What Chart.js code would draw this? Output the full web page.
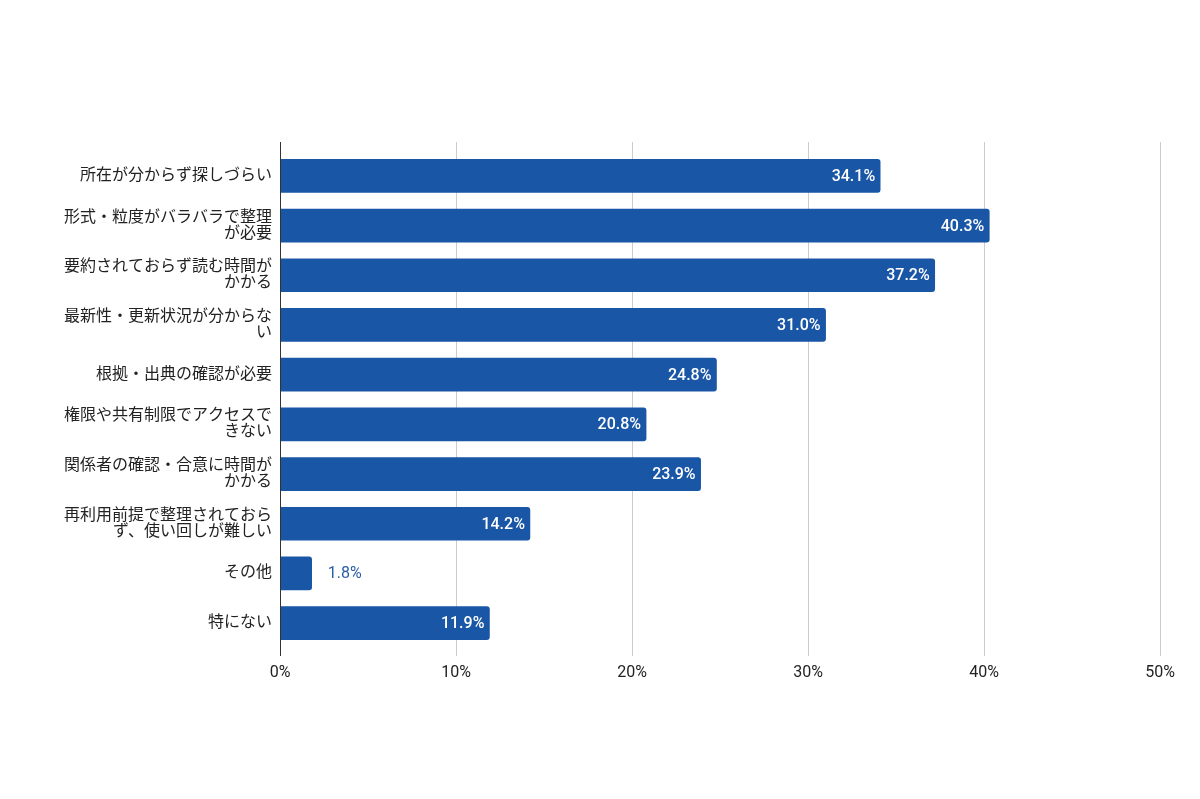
<!DOCTYPE html>
<html lang="ja">
<head>
<meta charset="utf-8">
<script src="https://cdn.jsdelivr.net/npm/chart.js@4"></script>
<style>
  html, body { margin: 0; padding: 0; background: #fff; }
  #wrap { width: 1200px; height: 799px; }
</style>
</head>
<body>
<div id="wrap"><canvas id="barChart" width="1200" height="799"></canvas></div>
<script>
// categories (multi-line labels as in the picture)
const categories = [
    ['所在が分からず探しづらい'],
    ['形式・粒度がバラバラで整理', 'が必要'],
    ['要約されておらず読む時間が', 'かかる'],
    ['最新性・更新状況が分からな', 'い'],
    ['根拠・出典の確認が必要'],
    ['権限や共有制限でアクセスで', 'きない'],
    ['関係者の確認・合意に時間が', 'かかる'],
    ['再利用前提で整理されておら', 'ず、使い回しが難しい'],
    ['その他'],
    ['特にない']
];
const shares = [34.1, 40.3, 37.2, 31.0, 24.8, 20.8, 23.9, 14.2, 1.8, 11.9];
const axisTicks = [0, 10, 20, 30, 40, 50];

const barBlue = '#1a56a6';
const fontFamily = "Roboto, 'Noto Sans CJK JP', sans-serif";

// grid lines and the left axis line run a little past the category band
const gridBehind = {
    id: 'gridBehind',
    beforeDatasetsDraw(chart) {
        const { ctx, chartArea, scales } = chart;
        const top = chartArea.top - 9, bottom = chartArea.bottom + 8;
        ctx.save();
        ctx.lineWidth = 1;
        axisTicks.forEach(v => {
            if (v === 0) return;
            const x = Math.round(scales.x.getPixelForValue(v)) + 0.5;
            ctx.strokeStyle = '#cccccc';
            ctx.beginPath();
            ctx.moveTo(x, top);
            ctx.lineTo(x, bottom);
            ctx.stroke();
        });
        ctx.restore();
    },
    afterDatasetsDraw(chart) {
        const { ctx, chartArea, scales } = chart;
        const x = Math.round(scales.x.getPixelForValue(0)) + 0.5;
        ctx.save();
        ctx.strokeStyle = '#333333';
        ctx.lineWidth = 1;
        ctx.beginPath();
        ctx.moveTo(x, chartArea.top - 9);
        ctx.lineTo(x, chartArea.bottom + 8);
        ctx.stroke();
        ctx.restore();
    }
};

// value labels: inside the bar end in white, outside in blue when the bar is short
const valueLabels = {
    id: 'valueLabels',
    afterDatasetsDraw(chart) {
        const ctx = chart.ctx;
        const meta = chart.getDatasetMeta(0);
        ctx.save();
        ctx.textBaseline = 'middle';
        meta.data.forEach((bar, i) => {
            const text = shares[i].toFixed(1) + '%';
            const width = bar.x - bar.base;
            if (width > 60) {
                ctx.font = `500 16px ${fontFamily}`;
                ctx.fillStyle = '#ffffff';
                ctx.textAlign = 'right';
                ctx.fillText(text, bar.x - 5, bar.y + 1);
            } else {
                ctx.font = `400 16px ${fontFamily}`;
                ctx.fillStyle = '#2a5ea8';
                ctx.textAlign = 'left';
                ctx.fillText(text, bar.x + 16, bar.y + 1);
            }
        });
        ctx.restore();
    }
};

new Chart(document.getElementById('barChart'), {
    type: 'bar',
    data: {
        labels: categories,
        datasets: [{
            data: shares,
            backgroundColor: barBlue,
            borderRadius: 3,
            borderSkipped: 'start',
            barThickness: 33
        }]
    },
    options: {
        indexAxis: 'y',
        responsive: false,
        animation: false,
        layout: { padding: { top: 151, right: 40, bottom: 115, left: 0 } },
        plugins: { legend: { display: false }, tooltip: { enabled: false } },
        scales: {
            x: {
                min: 0,
                max: 50,
                afterBuildTicks: (axis) => { axis.ticks = axisTicks.map(v => ({ value: v })); },
                afterFit: (axis) => { axis.height = 36; },
                grid: { display: false, drawTicks: false },
                border: { display: false },
                ticks: {
                    padding: 15,
                    color: '#222222',
                    font: { family: fontFamily, size: 16 },
                    callback: (v) => v + '%'
                }
            },
            y: {
                afterFit: (axis) => { axis.width = 280; },
                grid: { display: false, drawTicks: false },
                border: { display: false },
                ticks: {
                    padding: 8,
                    color: '#222222',
                    font: { family: fontFamily, size: 16, lineHeight: 1.0 }
                }
            }
        }
    },
    plugins: [gridBehind, valueLabels]
});
</script>
</body>
</html>
